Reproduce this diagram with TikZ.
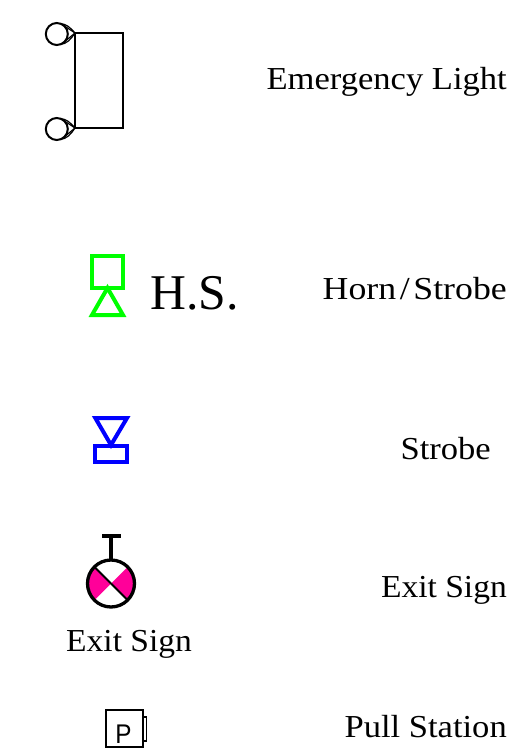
\documentclass[tikz,border=0pt]{standalone}
\usepackage{fontspec}
\setmainfont[FakeStretch=1.08]{Liberation Serif}
\newfontfamily\symfont{Liberation Sans}
\definecolor{exitpink}{RGB}{255,0,153}
\tikzset{
  x=1pt,y=-1pt,
  lbl/.style={inner sep=0pt,anchor=base east,font=\fontsize{32}{38}\selectfont},
  sublbl/.style={inner sep=0pt,anchor=base west,font=\fontsize{32}{38}\selectfont},
  thinblack/.style={draw=black,line width=1.5pt,line join=miter},
  teardrop/.style={draw=black,line width=2pt},
  tearfine/.style={draw=black,line width=1.2pt},
  greensym/.style={draw=green,line width=4pt,line join=miter},
  bluesym/.style={draw=blue,line width=4pt,line join=miter},
  exitline/.style={draw=black,line width=3.3pt},
}
\begin{document}
\begin{tikzpicture}
\useasboundingbox (0,0) rectangle (517,751);
% Emergency light
\draw[thinblack] (75,33) rectangle (123,128);
\draw[teardrop] (56.8,34) circle (11);
\draw[tearfine] (75,33) -- (63.3,25.2);
\draw[tearfine] (75,33) -- (63.3,42.8);
\draw[tearfine] (75,33) .. controls (70,27) and (66,24) .. (60,23.5);
\draw[tearfine] (75,33) .. controls (71,39) and (67,44) .. (60,44.5);
\draw[teardrop] (56.8,129) circle (11);
\draw[tearfine] (75,128) -- (63.3,120.2);
\draw[tearfine] (75,128) -- (63.3,137.8);
\draw[tearfine] (75,128) .. controls (70,122) and (66,119) .. (60,118.5);
\draw[tearfine] (75,128) .. controls (71,134) and (67,139) .. (60,139.5);
\node[lbl] (emlabel) at (507,90) {Emergency Light};
% Horn / strobe
\draw[greensym] (92,256.3) rectangle (123,288);
\draw[greensym] (107.5,288) -- (123,315) -- (92,315) -- cycle;
\node[sublbl,font=\fontsize{50}{60}\selectfont,xscale=0.92] (hs) at (150,309) {H.S.};
\node[lbl,xscale=1.035] (hslabel) at (507,299) {Horn\kern3.5pt/\kern3.5pt Strobe};
% Strobe
\draw[bluesym] (95.3,418) -- (127,418) -- (111,445) -- cycle;
\draw[bluesym] (95.3,446) rectangle (127,462);
\node[lbl] (stlabel) at (491,459) {Strobe};
% Exit sign
\begin{scope}
\clip (111,583.5) circle (23.5);
\fill[exitpink] (111,583.5) -- (78,550.5) -- (78,616.5) -- cycle;
\fill[exitpink] (111,583.5) -- (144,550.5) -- (144,616.5) -- cycle;
\end{scope}
\draw[draw=black,line width=2pt] (111,583.5) -- (94.5,567);
\draw[draw=black,line width=2pt] (111,583.5) -- (127.5,600);
\draw[exitline] (111,583.5) circle (23.5);
\draw[exitline] (111,560) -- (111,536);
\draw[exitline] (102,536) -- (121,536);
\node[sublbl,xscale=0.97] (exsub) at (66,651) {Exit Sign};
\node[lbl,xscale=0.97] (exlabel) at (507,597) {Exit Sign};
% Pull station
\draw[draw=black,line width=1.3pt] (106,710) rectangle (143,747);
\draw[draw=black,line width=1.3pt] (143,717) rectangle (146.3,741);
\node[inner sep=0pt,anchor=base,font=\symfont\fontsize{27}{32}\selectfont,xscale=0.9] (pull) at (123.5,743) {P};
\node[lbl] (pslabel) at (507,737) {Pull Station};
\end{tikzpicture}
\end{document}
